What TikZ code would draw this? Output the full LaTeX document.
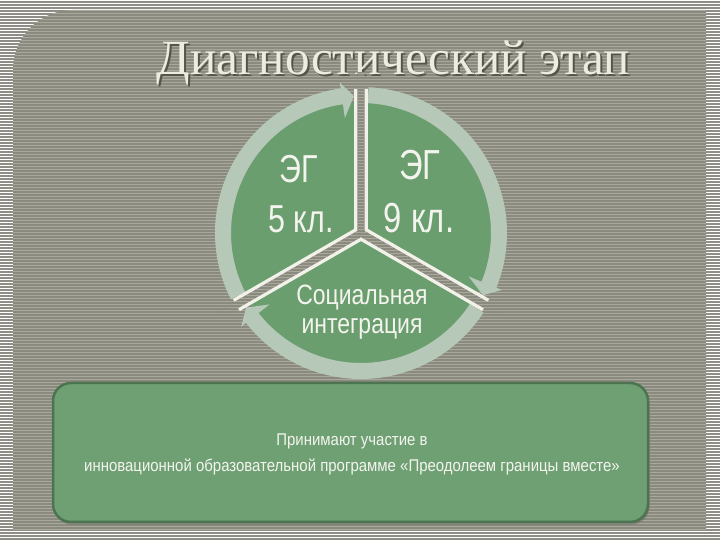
\documentclass[tikz,border=0pt]{standalone}
\usepackage{graphicx}
\usepackage{fontspec}
\setmainfont{Liberation Serif}
\newfontfamily\narrow[FakeStretch=0.78]{Liberation Sans}
\newfontfamily\narrowsoc[FakeStretch=0.82]{Liberation Sans}
\newfontfamily\narrowinfo[FakeStretch=0.88]{Liberation Sans}
\usetikzlibrary{calc}
\definecolor{outgrey}{HTML}{8E8E86}
\definecolor{pdark}{HTML}{8A8A7E}
\definecolor{plight}{HTML}{A8A89C}
\definecolor{diskgreen}{HTML}{6B9E6F}
\definecolor{ringc}{HTML}{B6C9B9}
\definecolor{gapwhite}{HTML}{F2F2EA}
\definecolor{titlec}{HTML}{EDEDDF}
\definecolor{titleshadow}{HTML}{55554C}
\definecolor{boxgreen}{HTML}{6FA074}
\definecolor{boxedge}{HTML}{4C7451}
\definecolor{txtc}{HTML}{F4F4EE}
\newcommand\panelbg{%
  \fill[pdark] (0,0) rectangle (720,540);
  \foreach \i in {0,...,179}{\fill[plight] (0,{\i*3+0.5}) rectangle (720,{\i*3+1.5});}%
}
\newcommand\titletext{\resizebox{473pt}{!}{\fontsize{54}{60}\selectfont Диагностический этап}}
\tikzset{
  txt/.style={text=txtc, inner sep=0pt},
  ringseg/.style={fill=ringc},
}
\begin{document}
\begin{tikzpicture}[x=1pt,y=1pt]
\useasboundingbox (0,0) rectangle (720,540);
% outer striped background
\fill[white] (0,0) rectangle (720,540);
\foreach \i in {0,...,179}{\fill[outgrey] (0,{\i*3}) rectangle (720,{\i*3+1.6});}
% panel
\begin{scope}
  \clip (13,10) -- (13,470) arc[start angle=180,end angle=90,radius=60] -- (706,530) -- (706,10) -- cycle;
  \panelbg
\end{scope}
% title with shadow
\node[anchor=base, inner sep=0pt] (title) at (393.5,465)
  {\makebox[0pt][l]{\hspace{2pt}\raisebox{-2pt}{\textcolor{titleshadow}{\titletext}}}\textcolor{titlec}{\titletext}};
% cycle diagram
\coordinate (C) at (361,307);
\fill[diskgreen] (C) circle[radius=131];
\foreach \s/\e [evaluate=\s as \sa using \s-3, evaluate=\e as \ea using \e+8, evaluate=\e as \et using \e+3] in {210/90, 90/-30, -30/-150}{
  \fill[ringseg] ($(C)+(\sa:146)$) arc[start angle=\sa, end angle=\ea, radius=146]
     -- ($(C)+(\ea:152)$) -- ($(C)+(\et:137)$) -- ($(C)+(\ea:116)$) -- ($(C)+(\ea:130)$)
     arc[start angle=\ea, end angle=\sa, radius=130] -- cycle;
}
\foreach \a in {90,210,330}{\draw[gapwhite, line width=14] (C) -- ($(C)+(\a:144)$);}
\foreach \a in {90,210,330}{
  \begin{scope}
    \clip[shift={(C)}, rotate=\a] (0,-3.6) rectangle (160,3.6);
    \panelbg
  \end{scope}
}
% texts in circle
\node[txt, font=\narrow\fontsize{39}{44}\selectfont] (eg1) at (299,371) {ЭГ};
\node[txt, font=\narrow\fontsize{39}{44}\selectfont] (kl5) at (301,321) {5 кл.};
\node[txt, font=\narrow\fontsize{42}{46}\selectfont] (eg2) at (420,375) {ЭГ};
\node[txt, font=\narrow\fontsize{42}{46}\selectfont] (kl9) at (419,322) {9 кл.};
\node[txt, align=center, font=\narrowsoc\fontsize{28}{29}\selectfont] (soc) at (362,228) {Социальная\\интеграция};
% bottom box
\fill[black!70, opacity=0.35, rounded corners=18] (54,15.5) rectangle (649.5,155);
\draw[boxedge, fill=boxgreen, line width=2.5, rounded corners=18] (53,18) rectangle (648,157);
\node[txt, align=center, font=\narrowinfo\fontsize{17}{26}\selectfont] (info) at (352,86) {Принимают участие в\\инновационной образовательной программе «Преодолеем границы вместе»};
\end{tikzpicture}
\end{document}
